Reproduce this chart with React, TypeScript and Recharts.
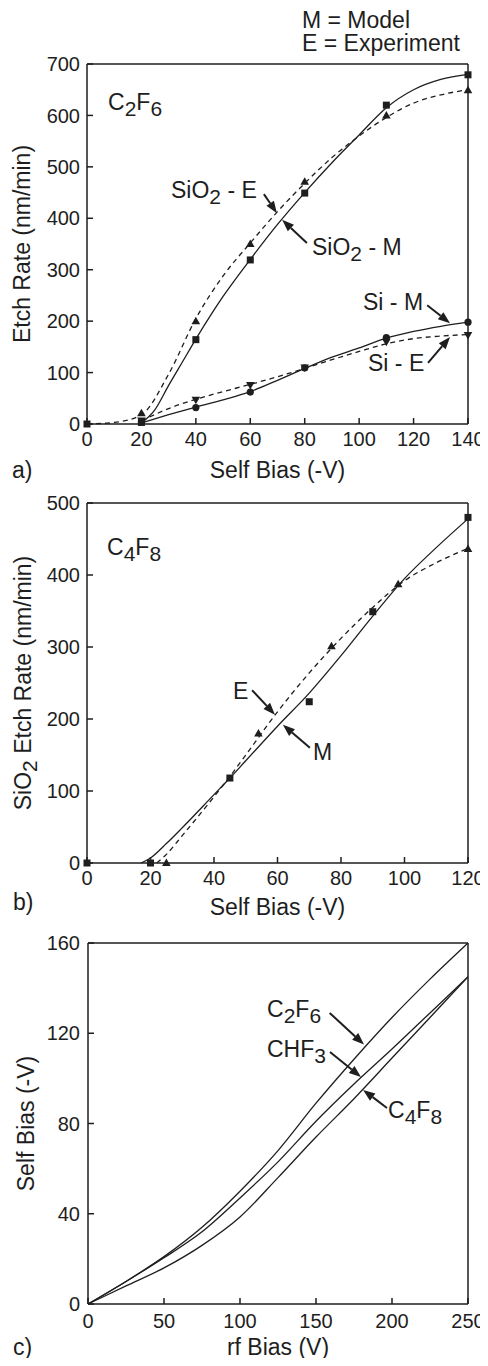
import React from 'react';
import { ComposedChart, Line, XAxis, YAxis, ReferenceLine } from 'recharts';

type Pt = [number, number];

const FONT = '"Liberation Sans", Arial, Helvetica, sans-serif';
const INK = '#1e1e1e';
const DASH = '5 4';

// ---- a) C2F6: etch rate vs self bias ----
const aBiasTicks = [0, 20, 40, 60, 80, 100, 120, 140];
const aRateTicks = [0, 100, 200, 300, 400, 500, 600, 700];

const aSiO2ModelCurve: Pt[] = [[20, 2], [25, 28], [30, 75], [35, 120], [40, 165], [50, 248], [60, 320], [70, 388], [80, 450], [90, 508], [100, 562], [110, 615], [120, 650], [130, 670], [140, 680]];
const aSiO2ExpCurve: Pt[] = [[0, 0], [10, 3], [20, 18], [30, 97], [40, 205], [50, 288], [60, 352], [70, 413], [80, 468], [90, 518], [100, 560], [110, 596], [120, 624], [130, 640], [140, 650]];
const aSiModelCurve: Pt[] = [[20, 2], [30, 18], [40, 33], [50, 47], [60, 63], [70, 85], [80, 108], [90, 130], [100, 148], [110, 167], [120, 180], [130, 190], [140, 198]];
const aSiExpCurve: Pt[] = [[20, 6], [30, 30], [40, 48], [50, 63], [60, 77], [70, 92], [80, 108], [90, 125], [100, 141], [110, 156], [120, 166], [130, 171], [140, 174]];

const aSiO2ModelPts: Pt[] = [[0, 0], [20, 3], [40, 164], [60, 319], [80, 449], [110, 620], [140, 679]];
const aSiO2ExpPts: Pt[] = [[20, 21], [40, 200], [60, 350], [80, 471], [110, 600], [140, 649]];
const aSiModelPts: Pt[] = [[20, 4], [40, 32], [60, 62], [80, 109], [110, 168], [140, 198]];
const aSiExpPts: Pt[] = [[20, 7], [40, 47], [60, 76], [80, 110], [110, 160], [140, 173]];

const aArrows: [Pt, Pt][] = [
  [[65, 447], [69.8, 410]],
  [[80.8, 352], [71.7, 397]],
  [[125, 231], [133.4, 196]],
  [[125.3, 119], [133.4, 169]],
];

// ---- b) C4F8: SiO2 etch rate vs self bias ----
const bBiasTicks = [0, 20, 40, 60, 80, 100, 120];
const bRateTicks = [0, 100, 200, 300, 400, 500];

const bModelCurve: Pt[] = [[17, 0], [20, 7], [25, 27], [30, 49], [40, 95], [45, 118], [50, 142], [60, 190], [70, 236], [80, 288], [90, 343], [100, 395], [110, 438], [120, 478]];
const bExpCurve: Pt[] = [[22, 0], [25, 12], [30, 38], [40, 92], [45, 120], [50, 150], [60, 210], [70, 264], [80, 312], [90, 355], [100, 392], [110, 417], [120, 437]];

const bModelPts: Pt[] = [[0, 0], [20, 0], [45, 118], [70, 224], [90, 349], [120, 480]];
const bExpPts: Pt[] = [[25, 0], [54, 180], [77, 301], [98, 387], [120, 436]];

const bArrows: [Pt, Pt][] = [
  [[52, 240], [59.2, 206]],
  [[70.2, 160], [61.7, 192]],
];

// ---- c) self bias vs rf bias ----
const cRfTicks = [0, 50, 100, 150, 200, 250];
const cBiasTicks = [0, 40, 80, 120, 160];

const cC2F6: Pt[] = [[0, 0], [25, 10], [50, 21], [75, 34], [100, 50], [125, 68], [150, 89], [175, 108.5], [200, 127], [225, 144], [250, 160]];
const cCHF3: Pt[] = [[0, 0], [25, 10], [50, 20.5], [75, 32], [100, 47], [125, 63], [150, 81], [175, 97.5], [200, 113], [225, 129], [250, 145]];
const cC4F8: Pt[] = [[0, 0], [25, 8], [50, 16], [75, 26], [100, 38.6], [125, 56], [150, 74], [175, 91], [200, 109], [225, 127], [250, 145]];

const cArrows: [Pt, Pt][] = [
  [[159, 129], [181.6, 115]],
  [[159.2, 111.7], [179.6, 100.6]],
  [[196.7, 86.9], [181, 94.9]],
];

const toXY = (pts: Pt[]) => pts.map(([x, y]) => ({ x, y }));

// marker shapes
const square = (p: any) => (
  <rect key={`sq${p.index}`} x={p.cx - 3.5} y={p.cy - 3.5} width={7} height={7} fill={INK} />
);
const circle = (p: any) => <circle key={`ci${p.index}`} cx={p.cx} cy={p.cy} r={3.6} fill={INK} />;
const triUp = (p: any) => (
  <polygon key={`tu${p.index}`} points={`${p.cx},${p.cy - 4.5} ${p.cx - 4.3},${p.cy + 3} ${p.cx + 4.3},${p.cy + 3}`} fill={INK} />
);
const triDown = (p: any) => (
  <polygon key={`td${p.index}`} points={`${p.cx},${p.cy + 4.5} ${p.cx - 4.3},${p.cy - 3} ${p.cx + 4.3},${p.cy - 3}`} fill={INK} />
);

const arrowShape = (p: any) => {
  const { x1, y1, x2, y2 } = p;
  const a = Math.atan2(y2 - y1, x2 - x1);
  const c = Math.cos(a);
  const s = Math.sin(a);
  const len = 12;
  const half = 4.5;
  const bx = x2 - len * c;
  const by = y2 - len * s;
  return (
    <g>
      <line x1={x1} y1={y1} x2={bx} y2={by} stroke={INK} strokeWidth={2} />
      <polygon points={`${x2},${y2} ${bx + half * s},${by - half * c} ${bx - half * s},${by + half * c}`} fill={INK} />
    </g>
  );
};

const curve = (key: string, pts: Pt[], dashed = false) => (
  <Line
    key={key}
    data={toXY(pts)}
    dataKey="y"
    type="monotone"
    stroke={INK}
    strokeWidth={1.3}
    strokeDasharray={dashed ? DASH : undefined}
    dot={false}
    activeDot={false}
    isAnimationActive={false}
  />
);

const markers = (key: string, pts: Pt[], shape: (p: any) => React.ReactElement) => (
  <Line
    key={key}
    data={toXY(pts)}
    dataKey="y"
    stroke="none"
    dot={shape}
    activeDot={false}
    isAnimationActive={false}
  />
);

const arrows = (list: [Pt, Pt][]) =>
  list.map(([from, to], i) => (
    <ReferenceLine
      key={`arr${i}`}
      segment={[{ x: from[0], y: from[1] }, { x: to[0], y: to[1] }]}
      ifOverflow="visible"
      shape={arrowShape}
    />
  ));

// four-sided frame, ticks pointing inward, labels only bottom/left
const frame = (xDomain: number[], xTicks: number[], yDomain: number[], yTicks: number[], xMargin: number, yMargin: number) => {
  const tickText = { fontSize: 20, fill: INK, fontFamily: FONT };
  const line = { stroke: INK, strokeWidth: 1.5 };
  return [
    <XAxis key="xb" type="number" dataKey="x" domain={xDomain} ticks={xTicks} interval={0} height={30}
      tickSize={-6} tickMargin={xMargin} tick={tickText} axisLine={line} tickLine={line} />,
    <XAxis key="xt" xAxisId="top" orientation="top" type="number" domain={xDomain} ticks={xTicks} interval={0}
      allowDataOverflow height={1} tickSize={-6} tick={false} axisLine={line} tickLine={line} />,
    <YAxis key="yl" type="number" dataKey="y" domain={yDomain} ticks={yTicks} interval={0} width={40}
      tickSize={-6} tickMargin={yMargin} tick={tickText} axisLine={line} tickLine={line} />,
    <YAxis key="yr" yAxisId="right" orientation="right" type="number" domain={yDomain} ticks={yTicks} interval={0}
      allowDataOverflow width={1} tickSize={-6} tick={false} axisLine={line} tickLine={line} />,
  ];
};

type Part = [string, boolean];

const Chem = ({ x, y, parts, size = 23, rotate }: { x: number; y: number; parts: Part[]; size?: number; rotate?: boolean }) => {
  let shift = 0;
  return (
    <text x={x} y={y} fontSize={size} fill={INK} textAnchor={rotate ? 'middle' : 'start'}
      transform={rotate ? `rotate(-90 ${x} ${y})` : undefined}>
      {parts.map(([t, sub], i) => {
        const target = sub ? 6 : 0;
        const dy = target - shift;
        shift = target;
        return (
          <tspan key={i} dy={dy} fontSize={sub ? size - 2 : size}>{t}</tspan>
        );
      })}
    </text>
  );
};

const Plain = ({ x, y, children, anchor = 'start', rotate }: { x: number; y: number; children: string; anchor?: string; rotate?: boolean }) => (
  <text x={x} y={y} fontSize={23} fill={INK} textAnchor={anchor as any}
    transform={rotate ? `rotate(-90 ${x} ${y})` : undefined}>{children}</text>
);

export default function App() {
  return (
    <div style={{ position: 'relative', width: 480, height: 1350, fontFamily: FONT }}>
      <div style={{ position: 'absolute', left: 0, top: 36 }}>
        <ComposedChart width={480} height={410} margin={{ top: 19, right: 19, bottom: 0, left: 39 }}>
          {frame([0, 140], aBiasTicks, [0, 700], aRateTicks, 14, 13)}
          {curve('a1', aSiO2ModelCurve)}
          {curve('a2', aSiO2ExpCurve, true)}
          {curve('a3', aSiModelCurve)}
          {curve('a4', aSiExpCurve, true)}
          {markers('m1', aSiO2ModelPts, square)}
          {markers('m2', aSiO2ExpPts, triUp)}
          {markers('m3', aSiModelPts, circle)}
          {markers('m4', aSiExpPts, triDown)}
          {arrows(aArrows)}
        </ComposedChart>
      </div>
      <div style={{ position: 'absolute', left: 0, top: 475 }}>
        <ComposedChart width={480} height={410} margin={{ top: 19, right: 19, bottom: 0, left: 39 }}>
          {frame([0, 120], bBiasTicks, [0, 500], bRateTicks, 14, 13)}
          {curve('b1', bModelCurve)}
          {curve('b2', bExpCurve, true)}
          {markers('m5', bModelPts, square)}
          {markers('m6', bExpPts, triUp)}
          {arrows(bArrows)}
        </ComposedChart>
      </div>
      <div style={{ position: 'absolute', left: 0, top: 915 }}>
        <ComposedChart width={480} height={411} margin={{ top: 19, right: 19, bottom: 0, left: 40 }}>
          {frame([0, 250], cRfTicks, [0, 160], cBiasTicks, 16, 14)}
          {curve('c1', cC2F6)}
          {curve('c2', cCHF3)}
          {curve('c3', cC4F8)}
          {arrows(cArrows)}
        </ComposedChart>
      </div>

      <svg width={480} height={1350} style={{ position: 'absolute', left: 0, top: 0, overflow: 'visible', pointerEvents: 'none' }}>
        <Plain x={294} y={20}>M = Model</Plain>
        <Plain x={294} y={43}>E = Experiment</Plain>

        <Chem x={100} y={102} parts={[['C', false], ['2', true], ['F', false], ['6', true]]} />
        <Chem x={163} y={190} parts={[['SiO', false], ['2', true], [' - E', false]]} />
        <Chem x={304} y={247} parts={[['SiO', false], ['2', true], [' - M', false]]} />
        <Plain x={355} y={302}>Si - M</Plain>
        <Plain x={360} y={363}>Si - E</Plain>
        <Plain x={22} y={236} anchor="middle" rotate>Etch Rate (nm/min)</Plain>
        <Plain x={269.5} y={470} anchor="middle">Self Bias (-V)</Plain>
        <Plain x={4} y={470}>a)</Plain>

        <Chem x={99} y={547} parts={[['C', false], ['4', true], ['F', false], ['8', true]]} />
        <Plain x={225} y={691}>E</Plain>
        <Plain x={305} y={752}>M</Plain>
        <Chem x={23} y={675} rotate parts={[['SiO', false], ['2', true], [' Etch Rate (nm/min)', false]]} />
        <Plain x={269.5} y={907} anchor="middle">Self Bias (-V)</Plain>
        <Plain x={5} y={902}>b)</Plain>

        <Chem x={259} y={1009} parts={[['C', false], ['2', true], ['F', false], ['6', true]]} />
        <Chem x={259} y={1049} parts={[['CHF', false], ['3', true]]} />
        <Chem x={380} y={1110} parts={[['C', false], ['4', true], ['F', false], ['8', true]]} />
        <Plain x={26} y={1115.5} anchor="middle" rotate>Self Bias (-V)</Plain>
        <Plain x={270} y={1347} anchor="middle">rf Bias (V)</Plain>
        <Plain x={5} y={1347}>c)</Plain>
      </svg>
    </div>
  );
}
